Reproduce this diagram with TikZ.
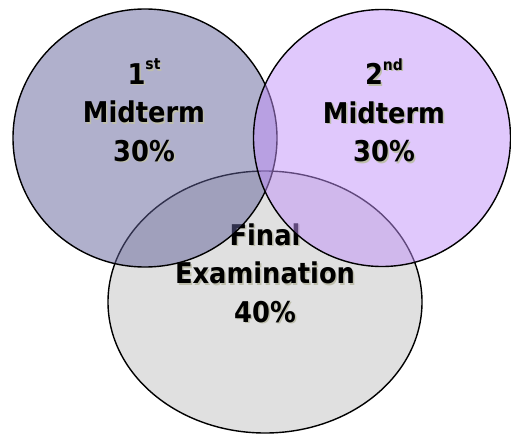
\documentclass[tikz,border=0pt]{standalone}
\usepackage{fontspec}
\setmainfont{DejaVu Sans Condensed}
\usepackage{tikz}
\usetikzlibrary{shapes.geometric}

\definecolor{firstcol}{RGB}{97,97,153}
\definecolor{secondcol}{RGB}{193,145,249}
\definecolor{finalcol}{RGB}{224,224,224}
\definecolor{shadowcol}{RGB}{190,190,172}

% Ordinal mark and text with a small drop shadow
\newcommand{\ordmark}[1]{\raisebox{14.5pt}{\fontsize{15.5}{15.5}\selectfont #1}}
\newcommand{\shaded}[1]{\makebox[0pt][l]{\hspace{1.5pt}\raisebox{-1.5pt}{\color{shadowcol}#1}}#1}

\begin{document}
\begin{tikzpicture}[x=1pt,y=-1pt,
    % Define the style for each set
    exam set/.style={ellipse, draw=black, line width=1.4pt, inner sep=0pt},
    first set/.style={exam set, fill=firstcol, fill opacity=0.5},
    second set/.style={exam set, fill=secondcol, fill opacity=0.5},
    final set/.style={exam set, fill=finalcol},
    % Define the style for the weights
    weight/.style={align=center, inner sep=0pt, font=\fontsize{28.6}{38.5}\selectfont\bfseries}
]

% Fix the size of the picture
\useasboundingbox (0,0) rectangle (511,434);

% Final examination set goes at the bottom
\node[final set, minimum width=314pt, minimum height=262pt] (final) at (265,302) {};
\node[weight] (final-text) at (265,274) {\shaded{Final}\\\shaded{Examination}\\\shaded{40\%}};

% First midterm set
\node[first set, minimum width=264pt, minimum height=258pt] (mid1) at (145,138) {};
\node[weight] (mid1-text) at (144,111) {\shaded{1\ordmark{st}}\\\shaded{Midterm}\\\shaded{30\%}};

% Second midterm set
\node[second set, minimum width=257pt, minimum height=257pt] (mid2) at (382,138) {};
\node[weight] (mid2-text) at (384,111) {\shaded{2\ordmark{nd}}\\\shaded{Midterm}\\\shaded{30\%}};

\end{tikzpicture}
\end{document}
